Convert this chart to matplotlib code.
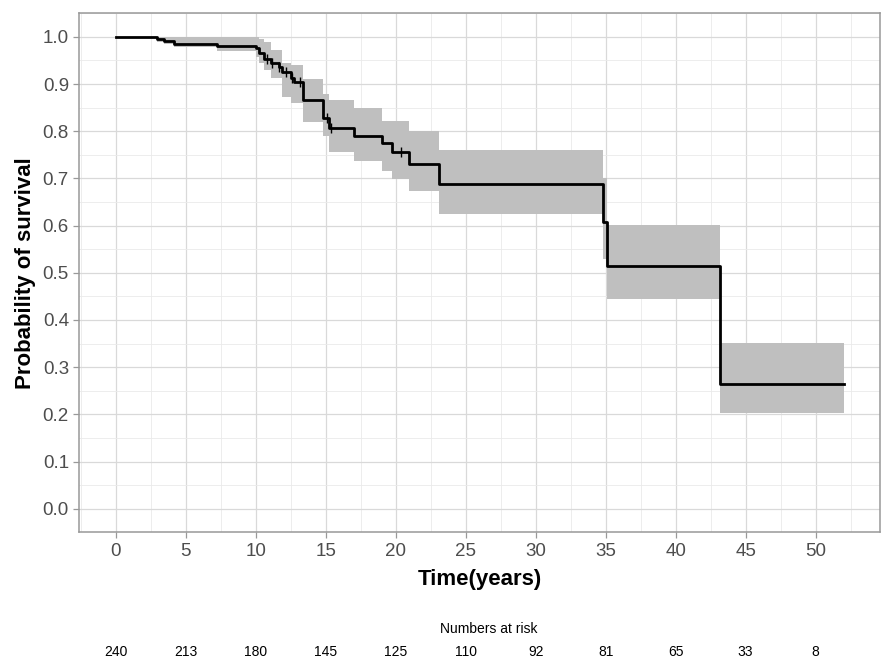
import matplotlib
matplotlib.use("Agg")
import matplotlib.pyplot as plt
import matplotlib.transforms as mtransforms

plt.rcParams['font.family'] = ['Liberation Sans', 'DejaVu Sans']

# Kaplan-Meier estimate
times = [0, 2.96, 3.44, 4.2, 7.26, 10.0, 10.24, 10.6, 11.08, 11.68, 11.9, 12.5,
         12.75, 13.35, 14.8, 15.26, 17.0, 19.03, 19.75, 20.94, 23.09, 34.84, 35.08, 43.15]
t_end = 52.03
surv = [1.0, 0.996, 0.991, 0.985, 0.980, 0.976, 0.966, 0.953, 0.944, 0.936, 0.925, 0.913,
        0.904, 0.867, 0.828, 0.807, 0.791, 0.776, 0.756, 0.730, 0.688, 0.607, 0.515, 0.264]
lower = [1.0, 0.99, 0.985, 0.978, 0.970, 0.958, 0.945, 0.930, 0.913, 0.913, 0.873, 0.860,
         0.860, 0.820, 0.790, 0.755, 0.737, 0.716, 0.698, 0.674, 0.624, 0.53, 0.445, 0.202]
upper = [1.0, 1.0, 1.0, 1.0, 1.0, 1.0, 0.995, 0.990, 0.973, 0.973, 0.945, 0.940,
         0.940, 0.910, 0.88, 0.867, 0.850, 0.821, 0.821, 0.80, 0.76, 0.70, 0.601, 0.352]
censor_times = [10.8, 11.2, 11.7, 12.2, 12.6, 13.2, 15.1, 15.4, 20.4]

risk_times = [0, 5, 10, 15, 20, 25, 30, 35, 40, 45, 50]
at_risk = [240, 213, 180, 145, 125, 110, 92, 81, 65, 33, 8]

fig = plt.figure(figsize=(8.83, 6.59), dpi=100)
ax = fig.add_axes([0.0898, 0.1923, 0.9068, 0.7875])

t_edges = times + [t_end]
ax.fill_between(t_edges, lower + [lower[-1]], upper + [upper[-1]], step='post',
                color='#bfbfbf', linewidth=0, zorder=2)
ax.step(t_edges, surv + [surv[-1]], where='post', color='black', lw=2, zorder=3)


def s_at(t):
    s = surv[0]
    for ti, si in zip(times, surv):
        if ti <= t:
            s = si
    return s


ax.plot(censor_times, [s_at(t) for t in censor_times], linestyle='none', marker='|',
        markersize=7, mew=1, color='black', zorder=4)

ax.set_xlim(-2.6, 54.6)
ax.set_ylim(-0.05, 1.05)
ax.set_xticks(range(0, 51, 5))
ax.set_yticks([i / 10 for i in range(11)])
ax.set_yticklabels(['%.1f' % (i / 10) for i in range(11)])
ax.set_xticks([x + 2.5 for x in range(-5, 55, 5)], minor=True)
ax.set_yticks([i / 10 + 0.05 for i in range(-1, 11)], minor=True)
ax.grid(which='major', color='#d9d9d9', lw=0.9)
ax.grid(which='minor', color='#eaeaea', lw=0.6)
ax.set_axisbelow(True)
ax.tick_params(which='major', colors='#999999', labelcolor='#4d4d4d', labelsize=13.5,
               length=4, width=0.9)
ax.tick_params(which='minor', length=0)
for s in ax.spines.values():
    s.set_color('#999999')
    s.set_linewidth(1.1)

ax.set_xlabel('Time(years)', fontsize=16, fontweight='bold', labelpad=7)
ax.set_ylabel('Probability of survival', fontsize=16, fontweight='bold', labelpad=5)

# numbers at risk table
trans = mtransforms.blended_transform_factory(ax.transData, fig.transFigure)
fig.text(0.553, 0.046, 'Numbers at risk', ha='center', va='center', fontsize=10)
for t, n in zip(risk_times, at_risk):
    ax.text(t, 0.0100, str(n), transform=trans, ha='center', va='center', fontsize=10,
            clip_on=False)

fig.savefig('out.png', dpi=100)
